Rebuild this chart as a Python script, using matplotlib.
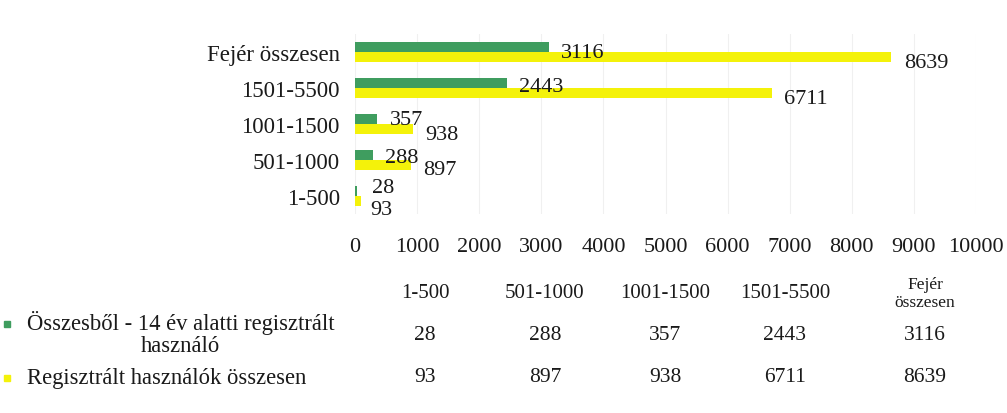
import matplotlib
matplotlib.use("Agg")
import matplotlib.pyplot as plt
import numpy as np

categories = ["1-500", "501-1000", "1001-1500", "1501-5500", "Fejér összesen"]
table_headers = ["1-500", "501-1000", "1001-1500", "1501-5500", "Fejér\nösszesen"]
under14 = [28, 288, 357, 2443, 3116]
total = [93, 897, 938, 6711, 8639]
series_names = ["Összesből - 14 év alatti regisztrált\nhasználó", "Regisztrált használók összesen"]
xticks = list(range(0, 10001, 1000))

green = "#3f9d5f"
yellow = "#f4f20a"
txt = "#1a1a1a"

plt.rcParams['font.family'] = ['Liberation Serif', 'DejaVu Serif']

W, H = 1007, 414
fig = plt.figure(figsize=(W / 100, H / 100), dpi=100)
ax = fig.add_axes([355 / W, 1 - 215 / H, (976 - 355) / W, 180 / H])

y = np.arange(len(categories))
off = 0.15
bh = 0.28
ax.barh(y + off, under14, height=bh, color=green)
ax.barh(y - off, total, height=bh, color=yellow)

# label offsets (points) per category: (green dx, green dy, yellow dx, yellow dy)
nudge = [(11, 2, 7, -5.5), (9, -2, 9, -3), (9, -0.5, 9, -3.5), (9, -3, 9, -3.5), (9, -4, 9, -4)]
for yi, g, t, (gx, gy, tx, ty) in zip(y, under14, total, nudge):
    ax.annotate(str(g), (g, yi + off), xytext=(gx, gy), textcoords="offset points",
                ha="left", va="center", fontsize=16, color=txt)
    ax.annotate(str(t), (t, yi - off), xytext=(tx, ty), textcoords="offset points",
                ha="left", va="center", fontsize=16, color=txt)

ax.set_xlim(0, 10000)
ax.set_ylim(-0.5, len(categories) - 0.5)
ax.set_xticks(xticks)
ax.set_xticklabels([str(v) for v in xticks], fontsize=16, color=txt)
ax.set_yticks(y)
ax.set_yticklabels(categories, fontsize=16.5, color=txt)
ax.tick_params(axis="x", length=0, pad=16.5)
ax.tick_params(axis="y", length=0, pad=11)
ax.grid(axis="x", color="#f0f0f0", linewidth=0.8)
ax.set_axisbelow(True)
for s in ax.spines.values():
    s.set_visible(False)

# data table below chart
col_x = [425, 545, 665, 785, 925]
head_y = 294
row_y = [336, 378]

def fx(px):
    return px / W

def fy(py):
    return 1 - py / H

for cx, h in zip(col_x, table_headers):
    fs = 12.5 if "\n" in h else 15
    fig.text(fx(cx), fy(head_y), h, ha="center", va="center", fontsize=fs,
             color=txt, multialignment="center", linespacing=1.15)

for ry, vals in zip(row_y, [under14, total]):
    for cx, v in zip(col_x, vals):
        fig.text(fx(cx), fy(ry), str(v), ha="center", va="center", fontsize=15.5, color=txt)

fig.text(fx(27), fy(334), series_names[0], ha="left", va="center", fontsize=16.3,
         color=txt, multialignment="center", linespacing=1.05)
fig.text(fx(27), fy(379), series_names[1], ha="left", va="center", fontsize=16.3, color=txt)
fig.patches.append(plt.Rectangle((fx(4), fy(328)), 6 / W, 6 / H, transform=fig.transFigure,
                                 color=green, figure=fig))
fig.patches.append(plt.Rectangle((fx(4), fy(382)), 6 / W, 6 / H, transform=fig.transFigure,
                                 color=yellow, figure=fig))

fig.savefig("out.png", dpi=100)
